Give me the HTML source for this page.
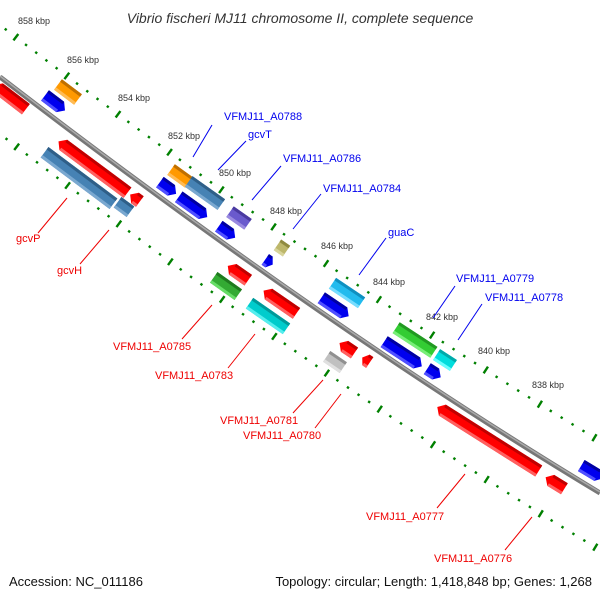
<!DOCTYPE html>
<html><head><meta charset="utf-8"><style>
body{margin:0;background:#fff}
svg{display:block}
text{font-family:"Liberation Sans",sans-serif}
</style></head><body>
<svg id="s" width="600" height="600" viewBox="0 0 600 600" xmlns="http://www.w3.org/2000/svg">
<text x="300" y="23" text-anchor="middle" font-size="14" font-style="italic" fill="#333">Vibrio fischeri MJ11 chromosome II, complete sequence</text>
<g id="dots"></g>
<path id="pu" d="M0,25 Q329,278 600,441" fill="none" stroke="none"/>
<path id="pl" d="M0,134 Q329,387 600,550" fill="none" stroke="none"/>
<path d="M0,77 Q329,330 600,493" fill="none" stroke="#777" stroke-width="5"/>
<path d="M0,76 Q329,329 600,492" fill="none" stroke="#aaa" stroke-width="1.5"/>
<g id="genes"></g>
<g font-size="9" fill="#333">
<text x="18" y="24">858 kbp</text><text x="67" y="63">856 kbp</text><text x="118" y="101">854 kbp</text>
<text x="168" y="139">852 kbp</text><text x="219" y="176">850 kbp</text><text x="270" y="214">848 kbp</text>
<text x="321" y="249">846 kbp</text><text x="373" y="285">844 kbp</text><text x="426" y="320">842 kbp</text>
<text x="478" y="354">840 kbp</text><text x="532" y="388">838 kbp</text>
</g>
<g font-size="11" fill="#0000ee" stroke="none">
<text x="224" y="120">VFMJ11_A0788</text><text x="248" y="138">gcvT</text>
<text x="283" y="162">VFMJ11_A0786</text><text x="323" y="192">VFMJ11_A0784</text>
<text x="388" y="236">guaC</text><text x="456" y="282">VFMJ11_A0779</text><text x="485" y="301">VFMJ11_A0778</text>
</g>
<g stroke="#0000ee" stroke-width="1">
<line x1="212" y1="125" x2="193" y2="157"/><line x1="246" y1="141" x2="218" y2="170"/>
<line x1="281" y1="166" x2="252" y2="200"/><line x1="321" y1="194" x2="293" y2="229"/>
<line x1="386" y1="238" x2="359" y2="275"/><line x1="455" y1="286" x2="433" y2="318"/>
<line x1="482" y1="304" x2="458" y2="340"/>
</g>
<g font-size="11" fill="#ee0000">
<text x="16" y="242">gcvP</text><text x="57" y="274">gcvH</text>
<text x="113" y="350">VFMJ11_A0785</text><text x="155" y="379">VFMJ11_A0783</text>
<text x="220" y="424">VFMJ11_A0781</text><text x="243" y="439">VFMJ11_A0780</text>
<text x="366" y="520">VFMJ11_A0777</text><text x="434" y="562">VFMJ11_A0776</text>
</g>
<g stroke="#ee0000" stroke-width="1">
<line x1="38" y1="233" x2="67" y2="198"/><line x1="80" y1="264" x2="109" y2="230"/>
<line x1="182" y1="339" x2="212" y2="305"/><line x1="228" y1="368" x2="255" y2="334"/>
<line x1="293" y1="413" x2="323" y2="380"/><line x1="315" y1="428" x2="341" y2="394"/>
<line x1="437" y1="508" x2="465" y2="474"/><line x1="505" y1="550" x2="532" y2="517"/>
</g>
<text x="9" y="586" font-size="13" fill="#111">Accession: NC_011186</text>
<text x="592" y="586" font-size="13" fill="#111" text-anchor="end">Topology: circular; Length: 1,418,848 bp; Genes: 1,268</text>
</svg>
<script>
(function(){
var NS="http://www.w3.org/2000/svg";
var dots=document.getElementById('dots');
function place(id,anchorX){
 var p=document.getElementById(id),T=p.getTotalLength();
 var best=0,bd=1e9;
 for(var l=0;l<T;l+=0.5){var q=p.getPointAtLength(l);var d=Math.abs(q.x-anchorX);if(d<bd){bd=d;best=l;}}
 var step=12.8;
 var start=best-Math.floor(best/step)*step;
 for(var l=start,i=Math.round((start-best)/step);l<T;l+=step,i++){
  var q=p.getPointAtLength(l),q2=p.getPointAtLength(Math.min(T,l+1));
  var a=Math.atan2(q2.y-q.y,q2.x-q.x)*180/Math.PI;
  var r=document.createElementNS(NS,'rect');
  var tick=(((i%5)+5)%5)==0;
  if(tick){r.setAttribute('x',-1.2);r.setAttribute('y',-4);r.setAttribute('width',2.4);r.setAttribute('height',8);}
  else{r.setAttribute('x',-1.2);r.setAttribute('y',-1.2);r.setAttribute('width',2.4);r.setAttribute('height',2.4);}
  r.setAttribute('fill','#008000');
  r.setAttribute('transform','translate('+q.x+','+q.y+') rotate('+a+')');
  dots.appendChild(r);
 }
}
place('pu',379);place('pl',433);
var G=document.getElementById('genes');
function gene(cx,cy,L,col,dir,arrow,dark,light){
 var th=Math.atan(0.77-0.17*cx/600)*180/Math.PI;
 var g=document.createElementNS(NS,'g');
 g.setAttribute('transform','translate('+cx+','+cy+') rotate('+th+')'+(dir<0?' scale(-1,1)':''));
 var h=13,a=arrow?Math.min(6,L/2):0,x0=-L/2,x1=L/2;
 var pts=[[x0,-h/2],[x1-a,-h/2],[x1,arrow?0:-h/2],[x1-(arrow?a:0),h/2],[x0,h/2]];
 if(!arrow)pts=[[x0,-h/2],[x1,-h/2],[x1,h/2],[x0,h/2]];
 var pg=document.createElementNS(NS,'polygon');
 pg.setAttribute('points',pts.map(function(p){return p.join(',')}).join(' '));
 pg.setAttribute('fill',col);g.appendChild(pg);
 var t=document.createElementNS(NS,'rect');t.setAttribute('x',x0);t.setAttribute('y',-h/2);t.setAttribute('width',L-a);t.setAttribute('height',3);t.setAttribute('fill',dark);g.appendChild(t);
 var b=document.createElementNS(NS,'rect');b.setAttribute('x',x0);b.setAttribute('y',h/2-3);b.setAttribute('width',L-a);b.setAttribute('height',3);b.setAttribute('fill',light);g.appendChild(b);
 G.appendChild(g);
}
var R=['#ff0000','#c00000','#ff6060'],B=['#0000ee','#0000a0','#5050ff'];
function gg(x,y,L,c,d,ar){gene(x,y,L,c[0],d,ar,c[1],c[2]);}
gg(10,97,40,R,-1,true);
gg(68,92,25,['#ff9900','#c07000','#ffbb55'],1,false);
gg(55,103,25,B,1,true);
gg(93,167,86,R,-1,true);
gg(135,198,12,R,-1,true);
gg(79,178,86,['#4682b4','#2f5f88','#7aa8d0'],-1,false);
gg(124,207,16,['#4682b4','#2f5f88','#7aa8d0'],-1,false);
gg(180,176,22,['#ff9900','#c07000','#ffbb55'],1,false);
gg(168,188,20,B,1,true);
gg(205,193,40,['#4682b4','#2f5f88','#7aa8d0'],1,false);
gg(193,207,35,B,1,true);
gg(239,218,22,['#6a5acd','#4a3aa0','#9a8ae0'],1,false);
gg(227,232,20,B,1,true);
gg(282,248,11,['#bdb76b','#8f8a40','#d8d49a'],1,false);
gg(269,262,9,B,1,true);
gg(347,293,35,['#22bbee','#0f90c0','#77ddff'],1,false);
gg(335,307,33,B,1,true);
gg(415,340,45,['#33cc33','#229922','#77ee77'],1,false);
gg(403,354,45,B,1,true);
gg(445,360,20,['#00dddd','#00aaaa','#66ffff'],1,false);
gg(434,373,16,B,1,true);
gg(592,472,25,B,1,true);
gg(238,273,25,R,-1,true);
gg(226,286,30,['#33aa33','#1f7a1f','#66dd66'],-1,false);
gg(280,302,40,R,-1,true);
gg(268,316,45,['#00cccc','#009999','#55eeee'],-1,false);
gg(347,348,18,R,-1,true);
gg(335,362,20,['#c0c0c0','#909090','#e0e0e0'],-1,false);
gg(366,360,9,R,-1,true);
gg(488,439,120,R,-1,true);
gg(555,483,22,R,-1,true);
})();
</script>
</body></html>
